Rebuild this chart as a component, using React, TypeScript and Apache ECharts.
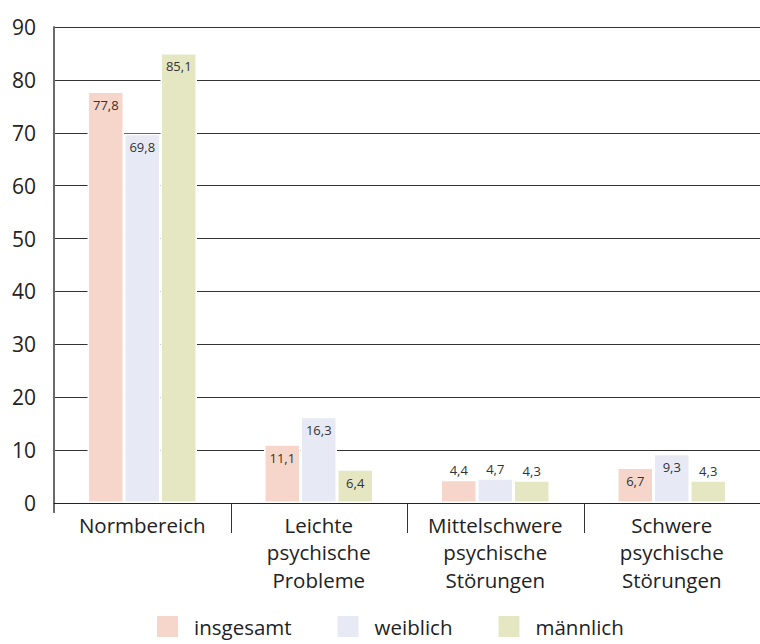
import React, { useEffect, useRef } from "react";
import * as echarts from "echarts";

const categories = [
  "Normbereich",
  "Leichte\npsychische\nProbleme",
  "Mittelschwere\npsychische\nStörungen",
  "Schwere\npsychische\nStörungen",
];
const seriesNames = ["insgesamt", "weiblich", "männlich"];
const insgesamt = [77.8, 11.1, 4.4, 6.7];
const weiblich = [69.8, 16.3, 4.7, 9.3];
const maennlich = [85.1, 6.4, 4.3, 4.3];
const colors = ["#f6d6ca", "#e7eaf5", "#e5e7c3"];
const yTicks = { min: 0, max: 90, interval: 10 };

const FONT = "'Open Sans', 'Noto Sans', sans-serif";

export default function App() {
  const ref = useRef<HTMLDivElement>(null);
  useEffect(() => {
    document.body.style.margin = "0";
    const chart = echarts.init(ref.current!, undefined, { renderer: "svg" });
    const mk = (name: string, data: number[], color: string) => ({
      name,
      type: "bar",
      data: data.map((v) => ({
        value: v,
        label: {
          position: v > 5 ? "insideTop" : "top",
          distance: v > 5 ? 7 : 3,
        },
      })),
      barGap: "0%",
      barCategoryGap: "38%",
      itemStyle: { color, borderColor: "#fff", borderWidth: 1.5 },
      label: {
        show: true,
        fontSize: 13,
        color: "#333",
        fontFamily: FONT,
        formatter: (p: any) => String(p.value).replace(".", ","),
      },
    });
    chart.setOption({
      animation: false,
      textStyle: { fontFamily: FONT },
      grid: { left: 54, top: 27, bottom: 141, width: 712 },
      legend: {
        left: 150,
        bottom: 0,
        itemWidth: 23,
        itemHeight: 23,
        itemGap: 44,
        icon: "rect",
        textStyle: { fontSize: 20.5, color: "#222", fontFamily: FONT, padding: [0, 0, 0, 10] },
        data: seriesNames,
      },
      xAxis: {
        type: "category",
        data: categories,
        z: 10,
        axisLine: { lineStyle: { color: "#222", width: 1 } },
        axisTick: { show: false },
        axisLabel: {
          interval: 0,
          fontSize: 20.5,
          lineHeight: 27.5,
          color: "#222",
          margin: 8,
          fontFamily: FONT,
        },
      },
      yAxis: {
        type: "value",
        ...yTicks,
        axisLine: { show: true, lineStyle: { color: "#6b6b6b", width: 2 } },
        axisTick: { show: false },
        axisLabel: { fontSize: 21, color: "#222", margin: 18, fontFamily: FONT },
        splitLine: { lineStyle: { color: "#333", width: 1 } },
      },
      series: [
        mk(seriesNames[0], insgesamt, colors[0]),
        mk(seriesNames[1], weiblich, colors[1]),
        mk(seriesNames[2], maennlich, colors[2]),
      ],
    });
    const zeroY = chart.convertToPixel({ yAxisIndex: 0 }, 0) as number;
    const c0 = chart.convertToPixel({ xAxisIndex: 0 }, 0) as number;
    const c1 = chart.convertToPixel({ xAxisIndex: 0 }, 1) as number;
    const band = c1 - c0;
    const lines: any[] = [];
    for (let i = 1; i < categories.length; i++) {
      const x = Math.round(c0 - band / 2 + band * i) + 0.5;
      lines.push({
        type: "line",
        shape: { x1: x, y1: zeroY, x2: x, y2: zeroY + 30 },
        style: { stroke: "#333", lineWidth: 1 },
      });
    }
    const ax = c0 - band / 2;
    lines.push({
      type: "line",
      shape: { x1: ax, y1: zeroY, x2: ax, y2: zeroY + 10 },
      style: { stroke: "#6b6b6b", lineWidth: 2 },
    });
    chart.setOption({ graphic: lines });
    return () => chart.dispose();
  }, []);
  return (
    <div
      ref={ref}
      style={{ width: 760, height: 644, position: "absolute", left: 0, top: 0 }}
    />
  );
}
